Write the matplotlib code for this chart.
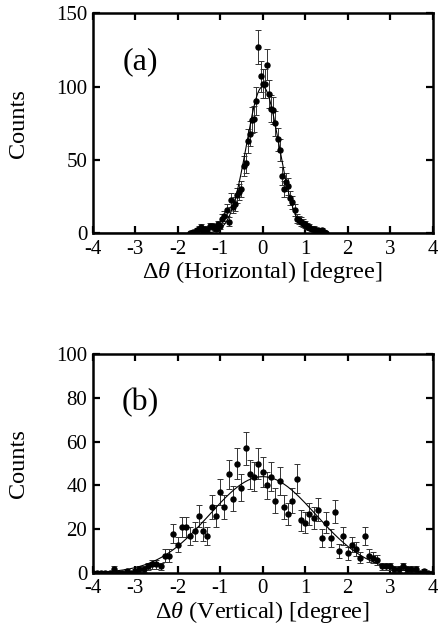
import numpy as np
import matplotlib
matplotlib.use('Agg')
import matplotlib.pyplot as plt

plt.rcParams['font.family'] = 'Liberation Serif'
plt.rcParams['mathtext.fontset'] = 'custom'
plt.rcParams['mathtext.rm'] = 'Liberation Serif'
plt.rcParams['mathtext.it'] = 'Liberation Serif:italic'
plt.rcParams['axes.unicode_minus'] = False

# (a) horizontal angular distribution, 0.05 deg bins
h_angle = [-1.70, -1.65, -1.60, -1.55, -1.50, -1.45, -1.40, -1.35, -1.30, -1.25,
           -1.20, -1.15, -1.10, -1.05, -1.00, -0.95, -0.90, -0.85, -0.80, -0.75,
           -0.70, -0.65, -0.60, -0.55, -0.50, -0.45, -0.40, -0.35, -0.30, -0.25,
           -0.20, -0.15, -0.10, -0.05, 0.00, 0.05, 0.10, 0.15, 0.20, 0.25,
           0.30, 0.35, 0.40, 0.45, 0.50, 0.55, 0.60, 0.65, 0.70, 0.75,
           0.80, 0.85, 0.90, 0.95, 1.00, 1.05, 1.10, 1.15, 1.20, 1.25,
           1.30, 1.35, 1.40, 1.45, 1.50]
h_counts = [0, 1, 1, 2, 3, 4, 2, 3, 2, 5,
            5, 4, 3, 6, 5, 10, 12, 16, 8, 23,
            18, 20, 26, 28, 30, 46, 48, 63, 68, 77,
            78, 90, 127, 107, 102, 102, 115, 95, 85, 84,
            75, 64, 57, 39, 30, 35, 32, 24, 21, 16,
            10, 9, 8, 7, 6, 5, 4, 3, 3, 2,
            2, 1, 2, 1, 0]

# (b) vertical angular distribution, 0.1 deg bins
v_angle = [-4.0, -3.9, -3.8, -3.7, -3.6, -3.5, -3.4, -3.3, -3.2, -3.1,
           -3.0, -2.9, -2.8, -2.7, -2.6, -2.5, -2.4, -2.3, -2.2, -2.1,
           -2.0, -1.9, -1.8, -1.7, -1.6, -1.5, -1.4, -1.3, -1.2, -1.1,
           -1.0, -0.9, -0.8, -0.7, -0.6, -0.5, -0.4, -0.3, -0.2, -0.1,
           0.0, 0.1, 0.2, 0.3, 0.4, 0.5, 0.6, 0.7, 0.8, 0.9,
           1.0, 1.1, 1.2, 1.3, 1.4, 1.5, 1.6, 1.7, 1.8, 1.9,
           2.0, 2.1, 2.2, 2.3, 2.4, 2.5, 2.6, 2.7, 2.8, 2.9,
           3.0, 3.1, 3.2, 3.3, 3.4, 3.5, 3.6, 3.7, 3.8, 3.9, 4.0]
v_counts = [0, 0, 0, 0, 0, 2, 0, 0, 1, 0,
            1, 2, 2, 3, 4, 4, 3, 8, 8, 18,
            13, 21, 21, 17, 19, 26, 19, 17, 30, 26,
            37, 30, 45, 34, 50, 39, 57, 45, 44, 50,
            46, 40, 44, 33, 42, 30, 27, 33, 43, 24,
            23, 27, 25, 29, 16, 23, 16, 28, 10, 17,
            9, 13, 11, 7, 17, 8, 7, 6, 3, 3,
            3, 2, 2, 3, 2, 2, 2, 0, 1, 0, 0]

# gaussian fit parameters (amplitude, centre, sigma)
h_fit = (100.0, 0.0, 0.38)
v_fit = (44.0, 0.0, 1.25)

x_ticks = [-4, -3, -2, -1, 0, 1, 2, 3, 4]


def gauss(x, amp, mu, sig):
    return amp * np.exp(-(x - mu) ** 2 / (2 * sig ** 2))


def panel(ax, x, y, fit, ymax, yticks, tag, xlabel):
    x = np.array(x)
    y = np.array(y, dtype=float)
    ax.errorbar(x, y, yerr=np.sqrt(y), fmt='o', color='black', ms=3.6,
                ecolor='#333333', elinewidth=0.7, capsize=2.3, capthick=0.7)
    xf = np.linspace(-4, 4, 400)
    ax.plot(xf, gauss(xf, *fit), color='black', lw=0.8)
    ax.set_xlim(-4, 4)
    ax.set_ylim(0, ymax)
    ax.set_xticks(x_ticks)
    ax.set_xticklabels([str(t) for t in x_ticks])
    ax.set_yticks(yticks)
    ax.tick_params(direction='in', top=True, right=True, length=5, width=1.6,
                   labelsize=15)
    ax.tick_params(axis='x', pad=4.5)
    ax.tick_params(axis='y', pad=4)
    for s in ax.spines.values():
        s.set_linewidth(1.8)
    ax.text(0.139, 0.78, tag, transform=ax.transAxes, fontsize=23,
            ha='center', va='center')
    ax.set_ylabel('Counts', fontsize=17.5)
    ax.set_xlabel(xlabel, fontsize=17.5)
    ax.yaxis.set_label_coords(-0.217, 0.5)
    ax.yaxis.label.set_va('center')
    ax.xaxis.set_label_coords(0.5, -0.177)
    ax.xaxis.label.set_va('center')


fig = plt.figure(figsize=(4.38, 6.35), dpi=100)
ax1 = fig.add_axes([0.2116, 0.6326, 0.7763, 0.3465])
ax2 = fig.add_axes([0.2116, 0.0976, 0.7763, 0.3449])

panel(ax1, h_angle, h_counts, h_fit, 150, [0, 50, 100, 150], '(a)',
      r'$\mathit{Δθ}$ (Horizontal) [degree]')
panel(ax2, v_angle, v_counts, v_fit, 100, [0, 20, 40, 60, 80, 100], '(b)',
      r'$\mathit{Δθ}$ (Vertical) [degree]')

fig.savefig('out.png', dpi=100)
